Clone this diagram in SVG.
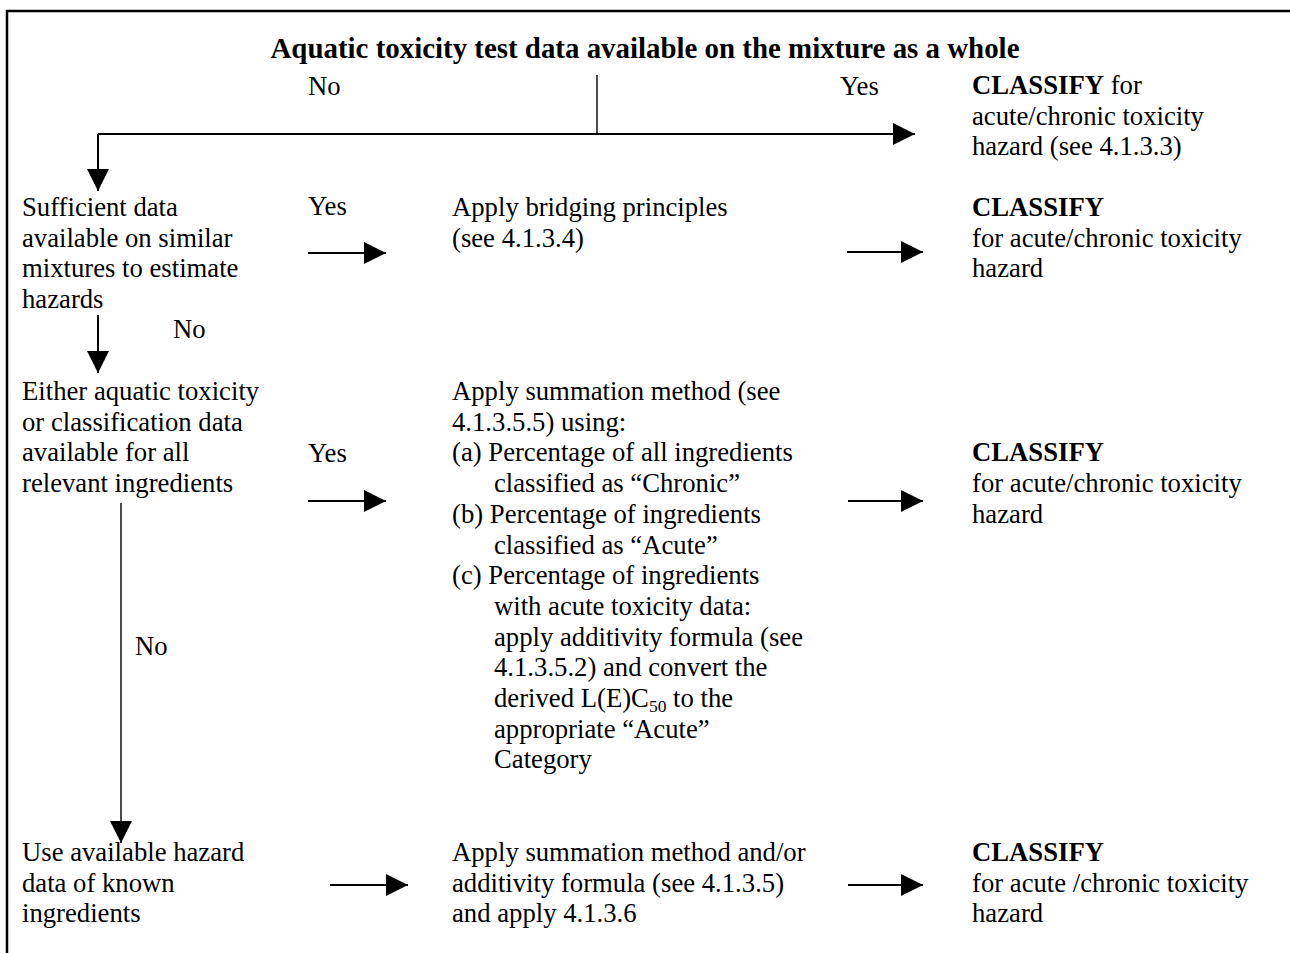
<svg xmlns="http://www.w3.org/2000/svg" width="1290" height="953" viewBox="0 0 1290 953">
<style>
text{font-family:"Liberation Serif","Times New Roman",serif;font-size:26.7px;fill:#000}
.b{font-weight:bold}
.title{font-weight:bold;font-size:28.9px}
.ln{stroke:#000;stroke-width:2;fill:none}
.thin{stroke:#000;stroke-width:1.4;fill:none}
</style>
<defs>
<marker id="ah" markerUnits="userSpaceOnUse" markerWidth="22" markerHeight="22" refX="20" refY="10" orient="auto" viewBox="0 0 20 20">
<path d="M0,0 L20,10 L0,20 z" fill="#000"/>
</marker>
</defs>
<rect width="1290" height="953" fill="#fff"/>
<g id="frame">
<path d="M7,953 V11 H1290" stroke="#000" stroke-width="2.5" fill="none"/>
</g>
<g id="connectors">
<path class="thin" d="M597,75 V134"/>
<path class="ln" d="M98,134 H915" marker-end="url(#ah)"/>
<path class="ln" d="M98,134 V191" marker-end="url(#ah)"/>
<path class="ln" d="M308,253 H386" marker-end="url(#ah)"/>
<path class="ln" d="M847,252 H923" marker-end="url(#ah)"/>
<path class="ln" d="M98,315 V373" marker-end="url(#ah)"/>
<path class="ln" d="M308,501 H386" marker-end="url(#ah)"/>
<path class="ln" d="M848,501 H923" marker-end="url(#ah)"/>
<path class="thin" d="M121,503 V843" marker-end="url(#ah)"/>
<path class="ln" d="M330,885 H408" marker-end="url(#ah)"/>
<path class="ln" d="M848,885 H923" marker-end="url(#ah)"/>
</g>
<g id="labels">
<text x="308" y="95">No</text>
<text x="840" y="95">Yes</text>
<text x="308" y="215">Yes</text>
<text x="173" y="338">No</text>
<text x="308" y="462">Yes</text>
<text x="135" y="655">No</text>
</g>
<g id="title">
<text class="title" x="645" y="58" text-anchor="middle">Aquatic toxicity test data available on the mixture as a whole</text>
</g>
<g id="classify-whole">
<text x="972" y="94"><tspan class="b">CLASSIFY</tspan> for</text>
<text x="972" y="124.7">acute/chronic toxicity</text>
<text x="972" y="155.4">hazard (see 4.1.3.3)</text>
</g>
<g id="similar-mixtures">
<text x="22" y="216">Sufficient data</text>
<text x="22" y="246.7">available on similar</text>
<text x="22" y="277.4">mixtures to estimate</text>
<text x="22" y="308.1">hazards</text>
</g>
<g id="bridging">
<text x="452" y="216">Apply bridging principles</text>
<text x="452" y="246.7">(see 4.1.3.4)</text>
</g>
<g id="classify-bridging">
<text x="972" y="216" class="b">CLASSIFY</text>
<text x="972" y="246.7">for acute/chronic toxicity</text>
<text x="972" y="277.4">hazard</text>
</g>
<g id="all-ingredients">
<text x="22" y="400">Either aquatic toxicity</text>
<text x="22" y="430.7">or classification data</text>
<text x="22" y="461.4">available for all</text>
<text x="22" y="492.1">relevant ingredients</text>
</g>
<g id="summation">
<text x="452" y="400">Apply summation method (see</text>
<text x="452" y="430.7">4.1.3.5.5) using:</text>
<text x="452" y="461.4">(a) Percentage of all ingredients</text>
<text x="494" y="492.1">classified as “Chronic”</text>
<text x="452" y="522.8">(b) Percentage of ingredients</text>
<text x="494" y="553.5">classified as “Acute”</text>
<text x="452" y="584.2">(c) Percentage of ingredients</text>
<text x="494" y="614.9">with acute toxicity data:</text>
<text x="494" y="645.6">apply additivity formula (see</text>
<text x="494" y="676.3">4.1.3.5.2) and convert the</text>
<text x="494" y="707">derived L(E)C<tspan font-size="17.5" dy="5">50</tspan><tspan dy="-5"> to the</tspan></text>
<text x="494" y="737.7">appropriate “Acute”</text>
<text x="494" y="768.4">Category</text>
</g>
<g id="classify-summation">
<text x="972" y="461.4" class="b">CLASSIFY</text>
<text x="972" y="492.1">for acute/chronic toxicity</text>
<text x="972" y="522.8">hazard</text>
</g>
<g id="known-ingredients">
<text x="22" y="861">Use available hazard</text>
<text x="22" y="891.7">data of known</text>
<text x="22" y="922.4">ingredients</text>
</g>
<g id="summation-additivity">
<text x="452" y="861">Apply summation method and/or</text>
<text x="452" y="891.7">additivity formula (see 4.1.3.5)</text>
<text x="452" y="922.4">and apply 4.1.3.6</text>
</g>
<g id="classify-known">
<text x="972" y="861" class="b">CLASSIFY</text>
<text x="972" y="891.7">for acute /chronic toxicity</text>
<text x="972" y="922.4">hazard</text>
</g>
</svg>
